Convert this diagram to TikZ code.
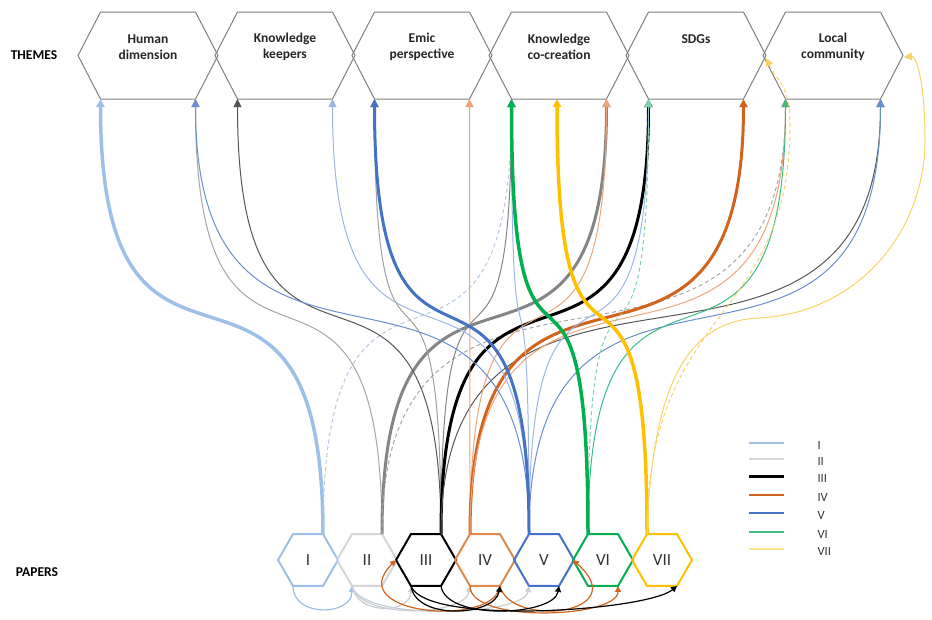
\documentclass[tikz,border=0pt]{standalone}
\usepackage{fontspec}
\setmainfont{Carlito}
\usepackage{xcolor}
\usepackage{tikz}
\usetikzlibrary{arrows.meta, shapes.geometric}

\definecolor{paperI}{HTML}{9DBFE8}
\definecolor{paperII}{HTML}{D6D6D6}
\definecolor{paperIV}{HTML}{D2631C}
\definecolor{paperV}{HTML}{4472C4}
\definecolor{paperVI}{HTML}{00B050}
\definecolor{paperVII}{HTML}{FFC000}
\definecolor{hexgray}{HTML}{7F7F7F}
\definecolor{labelgray}{HTML}{333333}
\definecolor{thinI}{HTML}{B4C8E6}
\definecolor{thinII}{HTML}{A6A6A6}
\definecolor{thickII}{HTML}{858585}
\definecolor{thinIII}{HTML}{555555}
\definecolor{paleIII}{HTML}{A0A0A0}
\definecolor{thinIV}{HTML}{EDA57A}
\definecolor{thinV}{HTML}{6A8ED2}
\definecolor{paleV}{HTML}{9DB6E3}
\definecolor{thinVI}{HTML}{3DBB85}
\definecolor{dashVI}{HTML}{7ED2A8}
\definecolor{thinVII}{HTML}{F5D46A}
\definecolor{backII}{HTML}{C9CED6}
\definecolor{hexIV}{HTML}{E08A50}
\definecolor{legVII}{HTML}{FFE38A}

\begin{document}
\begin{tikzpicture}[
    x=1pt, y=-1pt,
    themehex/.style={draw=hexgray, line width=1pt},
    themetext/.style={font=\bfseries\fontsize{13.5}{16}\selectfont, align=center, text=black!85},
    rowlabel/.style={font=\bfseries\fontsize{13.5}{16}\selectfont, text=black},
    paperhex/.style={regular polygon, regular polygon sides=6, minimum size=60pt, inner sep=0pt, outer sep=0pt, line width=2pt, text=labelgray, font=\fontsize{17}{20}\selectfont},
    legendtext/.style={anchor=west, text=labelgray, font=\fontsize{12.5}{14}\selectfont},
    rise/.style={-{Triangle[length=8pt,width=8pt]}, to path={.. controls +(0,-360) and +(0,360) .. (\tikztotarget) \tikztonodes}},
    strongrel/.style={rise, line width=3pt},
    plainrel/.style={rise, line width=1pt},
    weakrel/.style={rise, line width=1pt, dash pattern=on 4pt off 3pt},
    backlink/.style={-{Triangle[length=6pt,width=6pt]}, line width=1.2pt}
]
\useasboundingbox (0,0) rectangle (932,619);

% themes
\draw[themehex, shift={(148,0)}] (-70,55.5) -- (-47.5,12) -- (47.5,12) -- (70,55.5) -- (47.5,99) -- (-47.5,99) -- cycle;
\draw[themehex, shift={(285,0)}] (-70,55.5) -- (-47.5,12) -- (47.5,12) -- (70,55.5) -- (47.5,99) -- (-47.5,99) -- cycle;
\draw[themehex, shift={(422,0)}] (-70,55.5) -- (-47.5,12) -- (47.5,12) -- (70,55.5) -- (47.5,99) -- (-47.5,99) -- cycle;
\draw[themehex, shift={(559,0)}] (-70,55.5) -- (-47.5,12) -- (47.5,12) -- (70,55.5) -- (47.5,99) -- (-47.5,99) -- cycle;
\draw[themehex, shift={(696,0)}] (-70,55.5) -- (-47.5,12) -- (47.5,12) -- (70,55.5) -- (47.5,99) -- (-47.5,99) -- cycle;
\draw[themehex, shift={(833,0)}] (-70,55.5) -- (-47.5,12) -- (47.5,12) -- (70,55.5) -- (47.5,99) -- (-47.5,99) -- cycle;

\node[rowlabel] (themes) at (34,55) {THEMES};
\node[themetext] (human) at (148,47) {Human\\dimension};
\node[themetext] (keepers) at (285,47) {Knowledge\\keepers};
\node[themetext] (emic) at (422,47) {Emic\\perspective};
\node[themetext] (cocreation) at (559,47) {Knowledge\\co-creation};
\node[themetext] (sdgs) at (696,39) {SDGs};
\node[themetext] (community) at (833,47) {Local\\community};

\coordinate (human-bl) at (100.5,99);
\coordinate (human-br) at (195.5,99);
\coordinate (keepers-bl) at (237.5,99);
\coordinate (keepers-br) at (332.5,99);
\coordinate (emic-bl) at (374.5,99);
\coordinate (emic-br) at (469.5,99);
\coordinate (cocreation-bl) at (511.5,99);
\coordinate (cocreation-b) at (557,99);
\coordinate (cocreation-br) at (606.5,99);
\coordinate (sdgs-bl) at (648.5,99);
\coordinate (sdgs-br) at (743.5,99);
\coordinate (community-bl) at (785.5,99);
\coordinate (community-br) at (880.5,99);
\coordinate (community-w) at (766,58);
\coordinate (community-e) at (904,57);

% papers
\node[rowlabel] (papers) at (37,572) {PAPERS};
\node[paperhex, draw=paperI] (pI) at (308,560) {I};
\node[paperhex, draw=paperII] (pII) at (367,560) {II};
\node[paperhex, draw=black] (pIII) at (426,560) {III};
\node[paperhex, draw=hexIV] (pIV) at (485,560) {IV};
\node[paperhex, draw=paperV] (pV) at (544,560) {V};
\node[paperhex, draw=paperVI] (pVI) at (603,560) {VI};
\node[paperhex, draw=paperVII] (pVII) at (662,560) {VII};

% paper -> theme
\draw[strongrel, paperI, line width=3.5pt] (pI.60) to (human-bl);
\draw[weakrel, thinI] (pI.60) to (cocreation-bl);

\draw[plainrel, thinII] (pII.60) to (human-br);
\draw[strongrel, thickII] (pII.60) to (cocreation-br);
\draw[weakrel, thinII] (pII.60) to (community-bl);

\draw[plainrel, thinIII] (pIII.60) to (keepers-bl);
\draw[plainrel, paleIII] (pIII.60) to (emic-bl);
\draw[plainrel, thickII] (pIII.60) to (cocreation-bl);
\draw[strongrel, black] (pIII.60) to (sdgs-bl);
\draw[plainrel, thinIII] (pIII.60) to (community-br);

\draw[plainrel, thinIV] (pIV.120) to (emic-br);
\draw[plainrel, thinIV] (pIV.120) to (cocreation-br);
\draw[strongrel, paperIV] (pIV.120) to (sdgs-br);
\draw[plainrel, thinIV] (pIV.120) to (community-bl);

\draw[plainrel, thinV] (pV.120) to (human-br);
\draw[plainrel, paleV] (pV.120) to (keepers-br);
\draw[plainrel, paleV] (pV.120) to (cocreation-bl);
\draw[plainrel, paleV] (pV.120) to (sdgs-bl);
\draw[plainrel, thinV] (pV.120) to (community-br);
\draw[strongrel, paperV] (pV.120) to (emic-bl);

\draw[weakrel, dashVI] (pVI.120) to (sdgs-bl);
\draw[plainrel, thinVI] (pVI.120) to (community-bl);
\draw[strongrel, paperVI, line width=3.5pt] (pVI.120) to (cocreation-bl);

\draw[strongrel, paperVII, line width=3.5pt] (pVII.120) to (cocreation-b);
\draw[weakrel, thinVII] (pVII.120) .. controls +(0,-230) and +(0,200) .. (790,125) .. controls +(0,-40) and +(12,25) .. (community-w);
\draw[plainrel, thinVII] (pVII.120) .. controls (652,380) and (690,320) .. (760,318) .. controls (860,312) and (925,230) .. (925,140) .. controls (925,80) and (916,56) .. (community-e);

% paper -> paper
\draw[backlink, paperI] (pI.240) .. controls +(0,32) and +(0,30) .. (pII.240);
\draw[backlink, backII] (pII.240) .. controls +(5,30) and +(0,28) .. (pIII.240);
\draw[backlink, backII] (pII.240) .. controls +(8,34) and +(-5,30) .. (pIV.240);
\draw[backlink, backII] (pII.240) .. controls +(10,36) and +(-5,30) .. (pV.240);
\draw[backlink, paperIV] (pIV.300) .. controls +(-5,42) and +(-55,55) .. (pIII.180);
\draw[backlink, paperIV] (pIV.300) .. controls +(10,42) and +(62,55) .. (pVI.180);
\draw[backlink, paperIV] (pIV.240) .. controls +(0,38) and +(0,32) .. (pVI.300);
\draw[backlink, black] (pIII.240) .. controls +(5,35) and +(-5,30) .. (pIV.300);
\draw[backlink, black] (pIII.300) .. controls +(5,35) and +(-5,30) .. (pV.300);
\draw[backlink, black] (pIII.240) .. controls +(15,40) and +(-30,25) .. (pVII.300);

% legend
\draw[line width=2pt, paperI] (749,443) -- (784,443);
\draw[line width=1.5pt, paperII] (749,459) -- (784,459);
\draw[line width=3pt, black] (749,476) -- (784,476);
\draw[line width=2.5pt, paperIV] (749,495) -- (784,495);
\draw[line width=2.5pt, paperV] (749,513) -- (784,513);
\draw[line width=2.5pt, thinVI] (749,532) -- (784,532);
\draw[line width=2pt, legVII] (749,549) -- (784,549);
\node[legendtext] (legI) at (814,445) {I};
\node[legendtext] (legII) at (814,461) {II};
\node[legendtext] (legIII) at (814,478) {III};
\node[legendtext] (legIV) at (814,497) {IV};
\node[legendtext] (legV) at (814,515) {V};
\node[legendtext] (legVI) at (814,534) {VI};
\node[legendtext] (legVII) at (814,551) {VII};

\end{tikzpicture}
\end{document}
